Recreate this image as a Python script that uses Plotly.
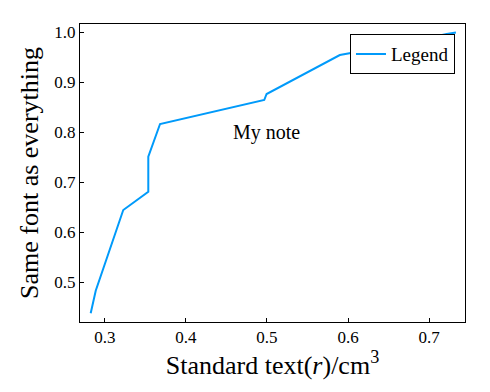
import plotly.graph_objects as go

x_vals = [0.2824, 0.2886, 0.3226, 0.3535, 0.3535, 0.3680, 0.4966, 0.4995, 0.5899, 0.6023, 0.6600, 0.7218, 0.7332]
y_vals = [0.438, 0.483, 0.6446, 0.6812, 0.7512, 0.8166, 0.8646, 0.8766, 0.9546, 0.958, 0.975, 0.9966, 0.9994]
series_name = "Legend"
note_text = "My note"
note_x, note_y = 0.5, 0.8
x_title = "Standard text(<i>r</i>)/cm<sup>3</sup>"
y_title = "Same font as everything"
x_ticks = [0.3, 0.4, 0.5, 0.6, 0.7]
y_ticks = [0.5, 0.6, 0.7, 0.8, 0.9, 1.0]

FONT = "Liberation Serif"

fig = go.Figure()
fig.add_trace(go.Scatter(x=x_vals, y=y_vals, mode="lines", name=series_name,
                         line=dict(color="#009AFA", width=2)))
fig.add_annotation(x=note_x, y=note_y, text=note_text, showarrow=False,
                   font=dict(family=FONT, size=20, color="black"))

axis_common = dict(showgrid=False, zeroline=False, showline=True, linecolor="black",
                   linewidth=1, mirror=True, ticks="inside", ticklen=4, tickcolor="black",
                   automargin=False,
                   tickfont=dict(family=FONT, size=17, color="black"))
fig.update_xaxes(range=[0.2692, 0.7444], tickvals=x_ticks, ticktext=[f"{v:.1f}" for v in x_ticks],
                 title=dict(text=x_title, font=dict(family=FONT, size=26, color="black"), standoff=0),
                 **axis_common)
fig.update_yaxes(range=[0.4206, 1.0166], tickvals=y_ticks, ticktext=[f"{v:.1f}" for v in y_ticks],
                 title=dict(text=y_title, font=dict(family=FONT, size=26, color="black"), standoff=8),
                 **axis_common)
fig.update_layout(width=490, height=392, margin=dict(l=80, r=25, t=24, b=70, autoexpand=False),
                  paper_bgcolor="white", plot_bgcolor="white",
                  font=dict(family=FONT, color="black"),
                  showlegend=True,
                  legend=dict(x=0.974, y=0.966, xanchor="right", yanchor="top",
                              bordercolor="black", borderwidth=1, bgcolor="white",
                              font=dict(family=FONT, size=19, color="black"),
                              itemwidth=30))
fig.write_html("out.html", config={"displayModeBar": False},
               post_script="document.body.style.margin='0';document.body.style.overflow='hidden';")
